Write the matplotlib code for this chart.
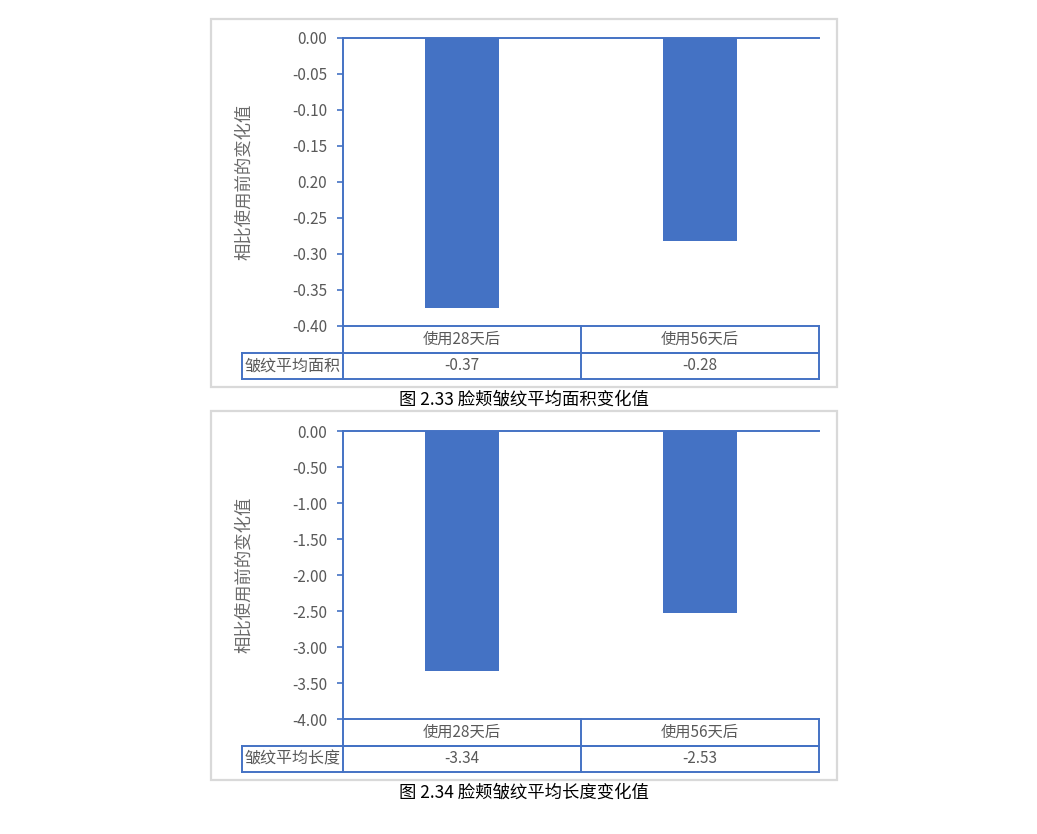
import matplotlib
matplotlib.use("Agg")
import matplotlib.pyplot as plt
from matplotlib.patches import Rectangle
from matplotlib.lines import Line2D

plt.rcParams['font.family'] = ['Noto Sans CJK SC', 'DejaVu Sans']

categories = ["使用28天后", "使用56天后"]

area_values = [-0.375, -0.282]
area_table = ["-0.37", "-0.28"]
area_row_label = "皱纹平均面积"
area_ticks = [0.00, -0.05, -0.10, -0.15, -0.20, -0.25, -0.30, -0.35, -0.40]
area_ticklabels = ["0.00", "-0.05", "-0.10", "-0.15", "0.20", "-0.25", "-0.30", "-0.35", "-0.40"]
area_caption_num = "2.33"
area_caption_text = "脸颊皱纹平均面积变化值"

length_values = [-3.335, -2.53]
length_table = ["-3.34", "-2.53"]
length_row_label = "皱纹平均长度"
length_ticks = [0.00, -0.50, -1.00, -1.50, -2.00, -2.50, -3.00, -3.50, -4.00]
length_ticklabels = ["0.00", "-0.50", "-1.00", "-1.50", "-2.00", "-2.50", "-3.00", "-3.50", "-4.00"]
length_caption_num = "2.34"
length_caption_text = "脸颊皱纹平均长度变化值"

ylabel = "相比使用前的变化值"

W, H = 1037, 834
fig = plt.figure(figsize=(W / 100, H / 100), dpi=100)
fig.patch.set_facecolor("white")

BLUE = "#4472C4"
TXT = "#595959"
GRID = "#d9d9d9"


def px(x0, y0, x1, y1):
    return [x0 / W, 1 - y1 / H, (x1 - x0) / W, (y1 - y0) / H]


def panel(box, ax_px, values, table, row_label, ticks, ticklabels, cap_y, cap_num, cap_text):
    bx0, by0, bx1, by1 = box
    fig.patches.append(Rectangle((bx0 / W, 1 - by1 / H), (bx1 - bx0) / W, (by1 - by0) / H,
                                 transform=fig.transFigure, fill=False,
                                 edgecolor=GRID, linewidth=1.6))
    ax = fig.add_axes(px(*ax_px))
    x = list(range(len(categories)))
    ax.bar(x, values, width=0.31, color=BLUE, zorder=2)
    ax.set_xlim(-0.5, len(categories) - 0.5)
    ax.set_ylim(ticks[-1], ticks[0])
    ax.set_yticks(ticks)
    ax.set_yticklabels(ticklabels)
    ax.set_xticks([])
    for s in ["right", "bottom"]:
        ax.spines[s].set_visible(False)
    for s in ["left", "top"]:
        ax.spines[s].set_color(BLUE)
        ax.spines[s].set_linewidth(1.4)
    ax.tick_params(axis="y", colors=BLUE, labelcolor=TXT, labelsize=11,
                   length=4, width=1.2, pad=7.5)
    ax.set_ylabel(ylabel, color="#6b6b6b", fontsize=12.5)
    ax.yaxis.set_label_coords(-0.188, 0.5)

    # data table below axes, in axes coordinates
    axw = ax_px[2] - ax_px[0]
    axh = ax_px[3] - ax_px[1]
    rh = 26.5 / axh
    lab_x = -(ax_px[0] - 242) / axw
    n = len(categories)
    tr = ax.transAxes
    lw = 1.4

    def line(xs, ys):
        ax.add_line(Line2D(xs, ys, transform=tr, color=BLUE, linewidth=lw, clip_on=False))

    line([0, 1], [0, 0])
    line([0, 1], [-rh, -rh])
    line([lab_x, 1], [-rh, -rh])
    line([lab_x, 1], [-2 * rh, -2 * rh])
    line([lab_x, lab_x], [-rh, -2 * rh])
    line([0, 0], [0, -2 * rh])
    for i in range(1, n + 1):
        line([i / n, i / n], [0, -2 * rh])
    for i, (c, v) in enumerate(zip(categories, table)):
        cx = (i + 0.5) / n
        ax.text(cx, -0.5 * rh, c, transform=tr, ha="center", va="center",
                color=TXT, fontsize=11)
        ax.text(cx, -1.5 * rh, v, transform=tr, ha="center", va="center",
                color=TXT, fontsize=11)
    ax.text((lab_x + 0) / 2, -1.5 * rh, row_label, transform=tr, ha="center", va="center",
            color=TXT, fontsize=11.5)

    fig.text(524 / W, 1 - cap_y / H, "图 " + cap_num + " " + cap_text,
             ha="center", va="center", fontsize=12.5, color="#000000")
    return ax


panel((211, 19, 837, 387), (343, 38, 819, 326), area_values, area_table, area_row_label,
      area_ticks, area_ticklabels, 400, area_caption_num, area_caption_text)
panel((211, 411, 837, 780), (343, 431, 819, 719), length_values, length_table, length_row_label,
      length_ticks, length_ticklabels, 793, length_caption_num, length_caption_text)

fig.savefig("out.png", dpi=100, facecolor="white")
